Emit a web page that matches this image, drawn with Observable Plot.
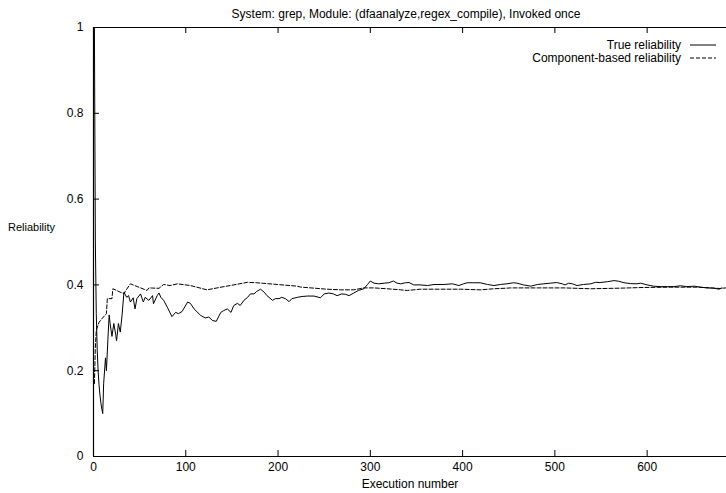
<!DOCTYPE html>
<html>
<head>
<meta charset="utf-8">
<script src="https://cdn.jsdelivr.net/npm/d3@7"></script>
<script src="https://cdn.jsdelivr.net/npm/@observablehq/plot@0.6"></script>
<style>
  html, body { margin: 0; padding: 0; background: #fff; }
  #chart svg { display: block; }
</style>
</head>
<body>
<div id="chart"></div>
<script>
const titleText = "System: grep, Module: (dfaanalyze,regex_compile), Invoked once";
const xLabel = "Execution number";
const yLabel = "Reliability";
const seriesNames = ["True reliability", "Component-based reliability"];
const xTicks = [0, 100, 200, 300, 400, 500, 600];
const yTicks = [0, 0.2, 0.4, 0.6, 0.8, 1];
const yTickLabels = ["0", "0.2", "0.4", "0.6", "0.8", "1"];

const trueX = [1,2,3,4,5,6,7,8,9,10,11,13,14,16,17,18,20,22,24,25,27,29,31,33,36,38,40,43,45,47,51,54,56,60,64,65,69,71,73,76,80,85,89,92,96,102,105,109,116,121,125,129,133,138,141,145,149,152,156,159,163,167,170,174,177,181,185,188,194,197,201,204,208,212,215,221,226,232,239,246,250,255,260,264,269,273,277,282,287,293,297,300,304,309,315,320,325,329,333,338,342,347,354,362,369,380,389,396,401,405,412,419,427,434,441,448,455,459,466,474,481,488,495,502,508,511,515,519,524,531,539,544,549,557,564,569,575,582,589,593,600,607,614,622,629,636,643,651,658,665,672,678,681];
const trueY = [1.0,0.5,0.333,0.25,0.2,0.167,0.143,0.125,0.111,0.1,0.17,0.23,0.2,0.29,0.33,0.31,0.28,0.31,0.285,0.27,0.31,0.29,0.33,0.383,0.371,0.375,0.36,0.37,0.344,0.368,0.379,0.36,0.371,0.364,0.375,0.356,0.375,0.381,0.371,0.364,0.348,0.326,0.336,0.333,0.338,0.36,0.357,0.344,0.329,0.323,0.325,0.317,0.315,0.336,0.34,0.344,0.336,0.352,0.357,0.352,0.364,0.371,0.379,0.379,0.385,0.39,0.383,0.375,0.364,0.368,0.368,0.371,0.368,0.361,0.368,0.371,0.373,0.374,0.374,0.37,0.379,0.381,0.379,0.375,0.379,0.378,0.375,0.381,0.387,0.391,0.401,0.409,0.404,0.4025,0.404,0.405,0.409,0.404,0.4025,0.405,0.4055,0.4,0.4,0.3985,0.401,0.401,0.4025,0.3985,0.4025,0.405,0.405,0.405,0.401,0.3985,0.401,0.4025,0.405,0.404,0.4,0.397,0.401,0.4025,0.404,0.4055,0.4025,0.4,0.404,0.4025,0.3985,0.401,0.4025,0.406,0.4055,0.4075,0.41,0.4087,0.405,0.403,0.4025,0.404,0.4,0.397,0.396,0.396,0.396,0.398,0.396,0.397,0.3947,0.393,0.3924,0.39,0.393];

const compX = [1,2,3,6,9,14,15,20,21,33,35,40,58,60,71,76,83,91,105,123,134,148,167,177,199,221,224,239,253,268,282,293,304,318,333,340,354,376,398,419,434,448,452,481,510,539,571,596,625,654,669,679,685];
const compY = [0.17,0.255,0.294,0.313,0.321,0.333,0.368,0.368,0.391,0.379,0.387,0.4025,0.387,0.393,0.392,0.401,0.3985,0.4025,0.3985,0.3885,0.393,0.3985,0.406,0.405,0.401,0.397,0.395,0.3924,0.39,0.3885,0.3885,0.393,0.393,0.391,0.3885,0.387,0.39,0.39,0.39,0.3885,0.391,0.3924,0.393,0.393,0.393,0.391,0.3924,0.394,0.3947,0.3947,0.393,0.3916,0.393];

const trueData = trueX.map((x, i) => ({x, y: trueY[i]}));
const compData = compX.map((x, i) => ({x, y: compY[i]}));

const W = 726, H = 493;
const mTop = 27, mBottom = 37, mLeft = 93, mRight = 0;
const fontFam = "'Liberation Sans', Arial, Helvetica, sans-serif";
const fs = 12;

const chart = Plot.plot({
  width: W,
  height: H,
  marginTop: mTop,
  marginBottom: mBottom,
  marginLeft: mLeft,
  marginRight: mRight,
  style: {fontFamily: fontFam, fontSize: fs + "px", background: "#fff", color: "#000", overflow: "visible"},
  x: {domain: [0, 686], label: null},
  y: {domain: [0, 1], label: null},
  marks: [
    // inward ticks
    Plot.tickX(xTicks.filter(d => d > 0), {x: d => d, insetTop: H - mTop - mBottom - 6, stroke: "#000"}),
    Plot.tickX(xTicks.filter(d => d > 0), {x: d => d, insetBottom: H - mTop - mBottom - 6, stroke: "#000"}),
    Plot.tickY(yTicks.filter(d => d > 0 && d < 1), {y: d => d, insetRight: W - mLeft - mRight - 6, stroke: "#000"}),
    // frame (left, top, bottom)
    Plot.ruleX([0], {stroke: "#000", strokeWidth: 1.2}),
    Plot.ruleY([0, 1], {stroke: "#000", strokeWidth: 1.2}),
    Plot.axisX({ticks: xTicks, tickSize: 0, tickPadding: 6, label: null, fontSize: fs}),
    Plot.axisY({ticks: yTicks, tickSize: 0, tickPadding: 10, label: null, fontSize: fs,
      tickFormat: d => yTickLabels[yTicks.indexOf(d)] ?? String(d)}),
    // data
    Plot.line(compData, {x: "x", y: "y", stroke: "#000", strokeWidth: 1, strokeDasharray: "4,2"}),
    Plot.line(trueData, {x: "x", y: "y", stroke: "#000", strokeWidth: 1}),
    // title and axis labels
    Plot.text([titleText], {frameAnchor: "top", dy: -18, dx: -4, fontSize: fs, fill: "#000"}),
    Plot.text([xLabel], {frameAnchor: "bottom", dy: 31, fontSize: fs, fill: "#000"}),
    Plot.text([yLabel], {frameAnchor: "left", dx: -62, dy: -15, fontSize: 11, fill: "#000", textAnchor: "middle"})
  ]
});

// legend (top right, inside frame)
const svg = d3.select(chart);
const lg = svg.append("g").attr("font-family", fontFam).attr("font-size", fs);
seriesNames.forEach((name, i) => {
  const y = 45 + i * 13;
  lg.append("text").attr("x", 681).attr("y", y).attr("dy", "0.35em")
    .attr("text-anchor", "end").attr("fill", "#000").text(name);
  lg.append("line").attr("x1", 690).attr("x2", 716).attr("y1", y).attr("y2", y)
    .attr("stroke", "#000").attr("stroke-width", 1)
    .attr("stroke-dasharray", i === 1 ? "4,2" : null);
});

document.getElementById("chart").appendChild(chart);
</script>
</body>
</html>
